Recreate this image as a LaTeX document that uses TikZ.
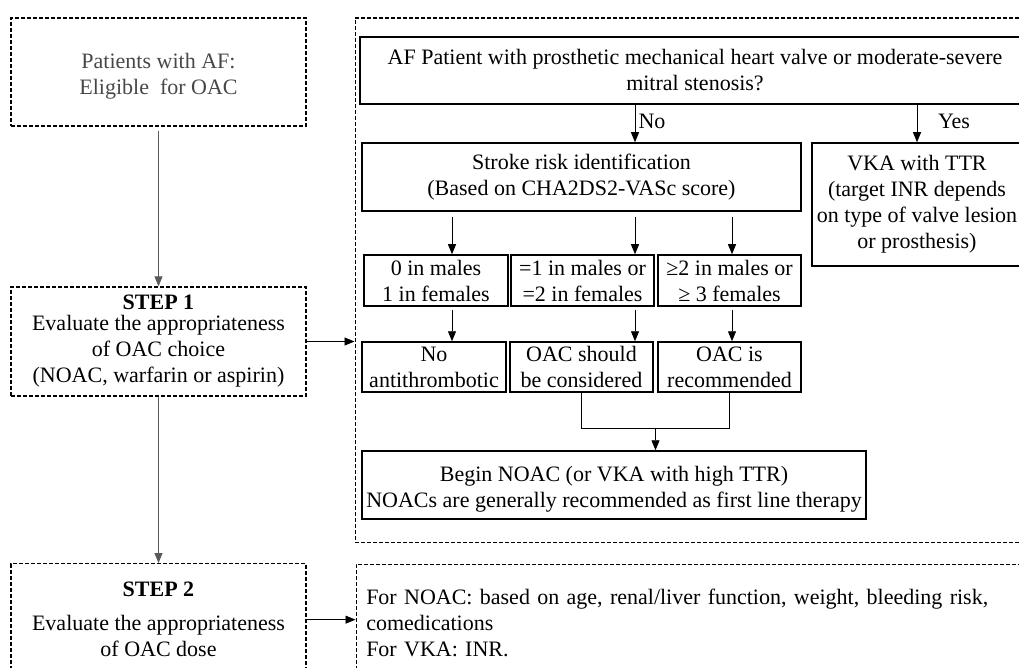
\documentclass[tikz,border=0pt]{standalone}
\usepackage{fontspec}
\setmainfont{Liberation Serif}
\usetikzlibrary{arrows.meta,calc}

\begin{document}
\begin{tikzpicture}[x=1pt, y=-1pt,
  font=\fontsize{22}{26}\selectfont,
  solidbox/.style={draw=black, line width=1.5pt, shape=rectangle, inner sep=0pt, align=center},
  dashbox/.style={draw=black, line width=1.3pt, dash pattern=on 4pt off 2pt, shape=rectangle, inner sep=0pt, align=center},
  arr/.style={-{Triangle[length=10pt,width=8pt]}, line width=0.8pt}]
\useasboundingbox (0,0) rectangle (1019,668);
\clip (0,0) rectangle (1019,668);

\node[dashbox, minimum width=295, minimum height=108, text=black!72] (patients) at (158.5,72) {\rule{0pt}{24pt}Patients with AF:\\Eligible\ \ for OAC};
\node[dashbox, minimum width=295, minimum height=109] (step1) at (158.5,341.5) {\textbf{STEP 1}\\[-5pt]Evaluate the appropriateness\\of OAC choice\\(NOAC, warfarin or aspirin)};
\node[dashbox, minimum width=295, minimum height=112, anchor=north] (step2) at (158.5,563) {\textbf{STEP 2}\\[8pt]Evaluate the appropriateness\\of OAC dose};

\node[dashbox, line width=1.5pt, minimum width=676, minimum height=524, anchor=north west] (choice) at (354.5,17.5) {};
\node[dashbox, line width=1.5pt, minimum height=118, anchor=north west, text width=656, inner xsep=10pt, align=left] (dose) at (355.5,563.5) {For NOAC: based on age, renal/liver\ function, weight, bleeding risk,\\comedications\\For VKA: INR.};

\node[solidbox, minimum width=670, minimum height=67] (question) at (695,70.5) {AF Patient with prosthetic mechanical heart valve or moderate-severe\\mitral stenosis?};
\node[solidbox, minimum width=439, minimum height=68] (stroke) at (581.5,177) {Stroke risk identification\\(Based on CHA2DS2-VASc score)};
\node[solidbox, minimum width=210, minimum height=123] (vka) at (917,204.5) {VKA with TTR\\(target INR depends\\on type of valve lesion\\or prosthesis)};

\node[solidbox, minimum width=144, minimum height=51] (low) at (436,280.5) {0 in males\\1 in females};
\node[solidbox, minimum width=143, minimum height=51] (middle) at (582.5,280.5) {=1 in males or\\=2 in females};
\node[solidbox, minimum width=143, minimum height=51] (high) at (729.5,280.5) {≥2 in males or\\≥ 3 females};

\node[solidbox, minimum width=144, minimum height=50] (noanti) at (434,367) {No\\antithrombotic};
\node[solidbox, minimum width=143, minimum height=50] (consider) at (581.5,367) {OAC should\\be considered};
\node[solidbox, minimum width=143, minimum height=50] (recommend) at (729.5,367) {OAC is\\recommended};

\node[solidbox, minimum width=504, minimum height=68] (begin) at (614,485) {\rule{0pt}{24pt}Begin NOAC (or VKA with high TTR)\\NOACs are generally recommended as first line therapy};

\coordinate (colA) at (452,0);
\coordinate (colB) at (635,0);
\coordinate (colC) at (732,0);
\coordinate (merge) at ($(consider.south)!0.5!(recommend.south) + (0,36)$);

\draw[arr, black!65] ([yshift=-4pt]patients.south) -- (step1.north);
\draw[arr, black!65] (step1.south) -- (step2.north);
\draw[arr] (step1.east) -- (step1.east -| choice.west);
\draw[arr] (step2.east) -- (step2.east -| dose.west);

\draw[arr] (question.south -| colB) -- (stroke.north -| colB);
\draw[arr] (question.south -| vka) -- (vka.north);
\node (nolabel) at (652,121) {No};
\node (yeslabel) at (954,121) {Yes};

\draw[arr] ([yshift=-5pt]stroke.south -| colA) -- (low.north -| colA);
\draw[arr] ([yshift=-5pt]stroke.south -| colB) -- (middle.north -| colB);
\draw[arr] ([yshift=-5pt]stroke.south -| colC) -- (high.north -| colC);

\draw[arr] ([yshift=-3pt]low.south -| colA) -- (noanti.north -| colA);
\draw[arr] ([yshift=-3pt]middle.south -| colB) -- (consider.north -| colB);
\draw[arr] ([yshift=-3pt]high.south -| colC) -- (recommend.north -| colC);

\draw[line width=0.8pt] (consider.south) |- (merge) -| (recommend.south);
\draw[arr] (merge) -- (merge |- begin.north);
\end{tikzpicture}
\end{document}
